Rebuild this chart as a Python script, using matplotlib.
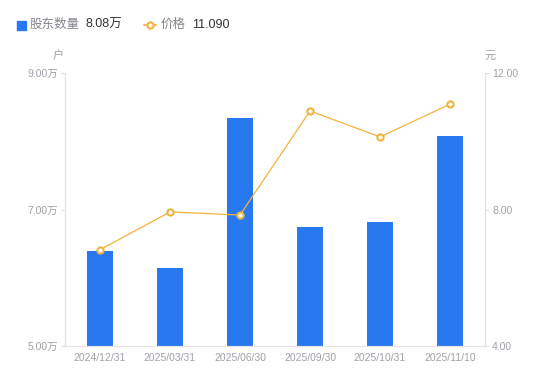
import matplotlib
matplotlib.use("Agg")
import matplotlib.pyplot as plt
import numpy as np

plt.rcParams['font.family'] = ['Liberation Sans', 'Noto Sans CJK SC', 'DejaVu Sans']

categories = ["2024/12/31", "2025/03/31", "2025/06/30", "2025/09/30", "2025/10/31", "2025/11/10"]
holders = [6.39, 6.14, 8.34, 6.74, 6.82, 8.08]   # 万户
price = [6.82, 7.93, 7.84, 10.89, 10.13, 11.09]   # 元
left_ticks = [5.0, 7.0, 9.0]
right_ticks = [4.0, 8.0, 12.0]

bar_color = '#2878F0'
line_color = '#F2B33D'
tick_color = '#A0A0A8'
axis_color = '#E3E3E6'

fig = plt.figure(figsize=(5.5, 3.81), dpi=100)
ax = fig.add_axes([0.118, 0.092, 0.764, 0.716])
x = np.arange(len(categories))
ax.bar(x, [h - 5.0 for h in holders], bottom=5.0, width=0.36, color=bar_color, zorder=2)
ax.set_xlim(-0.5, len(categories) - 0.5)
ax.set_ylim(5.0, 9.0)
ax.set_yticks(left_ticks)
ax.set_yticklabels([f"{t:.2f}万" for t in left_ticks])
ax.set_xticks(x)
ax.set_xticklabels(categories)

ax2 = ax.twinx()
ax2.plot(x, price, color=line_color, lw=0.9, marker='o', ms=4.5, mfc='white',
         mec=line_color, mew=1.5, zorder=3)
ax2.set_ylim(4.0, 12.0)
ax2.set_yticks(right_ticks)
ax2.set_yticklabels([f"{t:.2f}" for t in right_ticks])

for a in (ax, ax2):
    for s in a.spines.values():
        s.set_color(axis_color)
        s.set_linewidth(0.8)
    a.spines['top'].set_visible(False)
    a.tick_params(colors=axis_color, labelcolor=tick_color, labelsize=7.5, length=3, width=0.8)
ax.tick_params(axis='x', length=0, pad=5)
ax2.tick_params(axis='y', pad=2)
ax.tick_params(axis='y', pad=2)

fig.text(58 / 550, 1 - 56 / 381, "户", color=tick_color, fontsize=8, ha='center', va='center')
fig.text(490 / 550, 1 - 56 / 381, "元", color=tick_color, fontsize=8, ha='center', va='center')

# legend
ly = 1 - 25 / 381
fig.patches.append(plt.Rectangle((17 / 550, 1 - 29.5 / 381), 8.5 / 550, 8.5 / 381,
                                 transform=fig.transFigure, color=bar_color))
fig.text(30 / 550, ly, "股东数量", color='#858590', fontsize=9, va='center')
fig.text(85 / 550, ly, "8.08万", color='#333333', fontsize=9, va='center')
fig.lines.append(plt.Line2D([144 / 550, 156 / 550], [ly, ly],
                            transform=fig.transFigure, color=line_color, lw=1.2))
fig.lines.append(plt.Line2D([150 / 550], [ly], transform=fig.transFigure,
                            marker='o', ms=4.5, mfc='white', mec=line_color, mew=1.5))
fig.text(161 / 550, ly, "价格", color='#858590', fontsize=9, va='center')
fig.text(192 / 550, ly, "11.090", color='#333333', fontsize=9, va='center')

fig.savefig("out.png", dpi=100)
